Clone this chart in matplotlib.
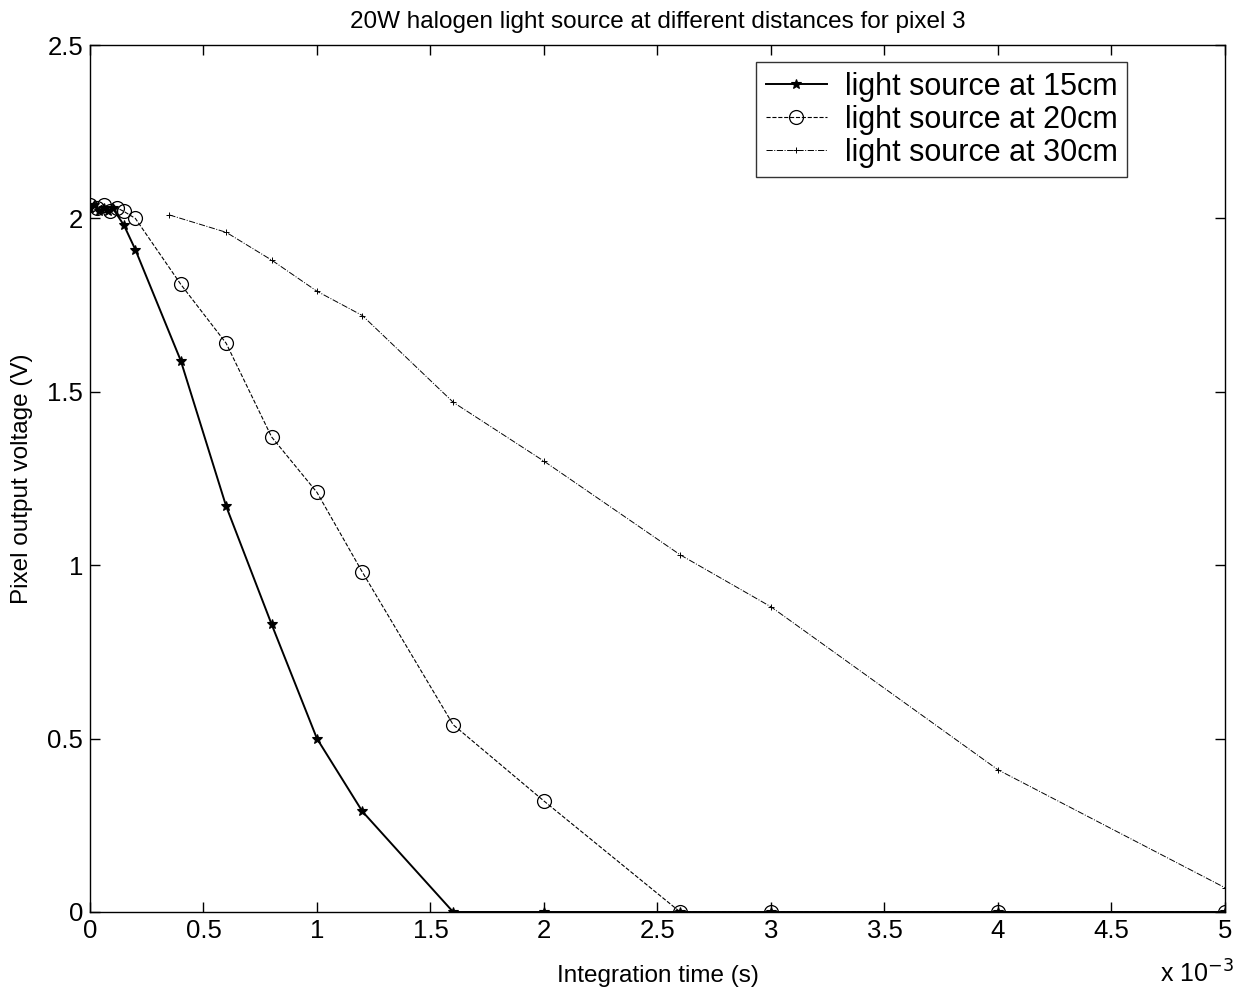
import matplotlib
matplotlib.use("Agg")
import matplotlib.pyplot as plt
from matplotlib.ticker import FuncFormatter

plt.rcParams['font.family'] = ['Liberation Sans', 'DejaVu Sans']

# DATA (integration time in ms, voltage in V)

t_15 = [0, 0.02, 0.04, 0.06, 0.08, 0.1, 0.15, 0.2, 0.4, 0.6, 0.8, 1.0, 1.2, 1.6, 2.0, 2.6, 3.0, 4.0, 5.0]
v_15 = [2.03, 2.04, 2.02, 2.03, 2.02, 2.03, 1.98, 1.91, 1.59, 1.17, 0.83, 0.50, 0.29, 0.0, 0.0, 0.0, 0.0, 0.0, 0.0]

t_20 = [0, 0.03, 0.06, 0.09, 0.12, 0.15, 0.2, 0.4, 0.6, 0.8, 1.0, 1.2, 1.6, 2.0, 2.6, 3.0, 4.0, 5.0]
v_20 = [2.04, 2.03, 2.04, 2.02, 2.03, 2.02, 2.00, 1.81, 1.64, 1.37, 1.21, 0.98, 0.54, 0.32, 0.0, 0.0, 0.0, 0.0]

t_30 = [0.35, 0.6, 0.8, 1.0, 1.2, 1.6, 2.0, 2.6, 3.0, 4.0, 5.0]
v_30 = [2.01, 1.96, 1.88, 1.79, 1.72, 1.47, 1.30, 1.03, 0.88, 0.41, 0.07]

labels = ['light source at 15cm', 'light source at 20cm', 'light source at 30cm']

# FIGURE

fig = plt.figure(figsize=(12.39, 9.94), dpi=100)
ax = fig.add_axes([0.0726, 0.0825, 0.9161, 0.8722])

ax.plot(t_15, v_15, '-*', color='black', linewidth=1.4,
        markersize=7, markeredgewidth=0.8, label=labels[0])
ax.plot(t_20, v_20, '--o', color='black', linewidth=0.8,
        markersize=10, markerfacecolor='none', markeredgewidth=0.9,
        label=labels[1])
ax.plot(t_30, v_30, '-.+', color='black', linewidth=0.7,
        markersize=5, markeredgewidth=0.7, label=labels[2])

ax.set_xlim(0, 5)
ax.set_ylim(0, 2.5)
ax.set_xticks([0, 0.5, 1, 1.5, 2, 2.5, 3, 3.5, 4, 4.5, 5])
ax.set_yticks([0, 0.5, 1, 1.5, 2, 2.5])
fmt = FuncFormatter(lambda v, p: '%g' % v)
ax.xaxis.set_major_formatter(fmt)
ax.yaxis.set_major_formatter(fmt)

ax.tick_params(direction='in', top=True, right=True, length=7,
               width=1, labelsize=18.5, pad=5)
for s in ax.spines.values():
    s.set_linewidth(1.0)

ax.set_xlabel('Integration time (s)', fontsize=17.5, labelpad=16)
ax.set_ylabel('Pixel output voltage (V)', fontsize=17.5, labelpad=10)
ax.set_title('20W halogen light source at different distances for pixel 3',
             fontsize=17.5, pad=12)

ax.text(1.008, -0.072, r'x 10$^{-3}$', transform=ax.transAxes,
        ha='right', va='center', fontsize=18)

leg = ax.legend(loc='upper right', fontsize=22, frameon=True, fancybox=False,
                edgecolor='black', handlelength=2.0, borderpad=0.3,
                labelspacing=0.1, handletextpad=0.6, borderaxespad=0,
                bbox_to_anchor=(0.9137, 0.980))
leg.get_frame().set_linewidth(1.0)

fig.savefig('out.png', dpi=100)
